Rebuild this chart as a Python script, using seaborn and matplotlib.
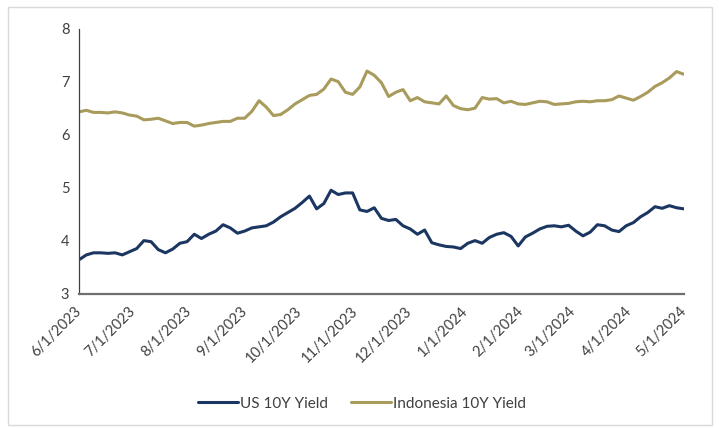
import pandas as pd
import seaborn as sns
import matplotlib.pyplot as plt
from matplotlib.patches import Rectangle

# yields, roughly every 4 days from 6/1/2023 to 5/1/2024
us_10y = [
    3.64, 3.73, 3.77, 3.77, 3.76, 3.77, 3.73, 3.79, 3.85, 4.00,
    3.98, 3.83, 3.77, 3.84, 3.95, 3.98, 4.12, 4.04, 4.12, 4.18,
    4.30, 4.24, 4.14, 4.18, 4.24, 4.26, 4.28, 4.35, 4.45, 4.53,
    4.61, 4.72, 4.84, 4.60, 4.70, 4.95, 4.87, 4.90, 4.90, 4.58,
    4.55, 4.62, 4.42, 4.38, 4.40, 4.28, 4.22, 4.12, 4.20, 3.96,
    3.92, 3.89, 3.88, 3.85, 3.95, 4.00, 3.95, 4.06, 4.12, 4.15,
    4.08, 3.90, 4.07, 4.14, 4.22, 4.27, 4.28, 4.26, 4.29, 4.18,
    4.09, 4.16, 4.30, 4.28, 4.20, 4.17, 4.28, 4.34, 4.45, 4.53,
    4.64, 4.61, 4.66, 4.62, 4.60,
]
indonesia_10y = [
    6.43, 6.46, 6.42, 6.42, 6.41, 6.43, 6.41, 6.37, 6.35, 6.28,
    6.29, 6.31, 6.26, 6.21, 6.23, 6.23, 6.16, 6.18, 6.21, 6.23,
    6.25, 6.25, 6.31, 6.31, 6.44, 6.64, 6.52, 6.36, 6.38, 6.47,
    6.58, 6.66, 6.74, 6.76, 6.86, 7.05, 7.00, 6.80, 6.76, 6.90,
    7.20, 7.12, 6.98, 6.72, 6.80, 6.85, 6.64, 6.70, 6.62, 6.60,
    6.58, 6.73, 6.55, 6.49, 6.47, 6.50, 6.70, 6.67, 6.68, 6.60,
    6.63, 6.58, 6.57, 6.60, 6.63, 6.62, 6.57, 6.58, 6.59, 6.62,
    6.63, 6.62, 6.64, 6.64, 6.66, 6.73, 6.69, 6.65, 6.72, 6.80,
    6.91, 6.98, 7.07, 7.19, 7.14,
]
dates = pd.date_range("2023-06-01", "2024-05-01", periods=len(us_10y))

month_ticks = pd.date_range("2023-06-01", "2024-05-01", freq="MS")
month_labels = ["6/1/2023", "7/1/2023", "8/1/2023", "9/1/2023", "10/1/2023",
                "11/1/2023", "12/1/2023", "1/1/2024", "2/1/2024", "3/1/2024",
                "4/1/2024", "5/1/2024"]
y_ticks = [3, 4, 5, 6, 7, 8]

df = pd.DataFrame({
    "Date": list(dates) * 2,
    "Yield": us_10y + indonesia_10y,
    "Series": ["US 10Y Yield"] * len(us_10y) + ["Indonesia 10Y Yield"] * len(indonesia_10y),
})

sns.set_style("white")
plt.rcParams["font.family"] = ["Lato", "DejaVu Sans"]

fig = plt.figure(figsize=(7.19, 4.28), dpi=100)
ax = fig.add_axes([0.110, 0.314, 0.841, 0.619])

sns.lineplot(data=df, x="Date", y="Yield", hue="Series",
             palette={"US 10Y Yield": "#1b3660", "Indonesia 10Y Yield": "#a89b5c"},
             linewidth=2.2, ax=ax)

ax.set_xlim(dates[0], dates[-1])
ax.set_ylim(3, 8)
ax.set_yticks(y_ticks)
ax.set_xticks(month_ticks)
ax.set_xticklabels(month_labels, rotation=45, ha="right", va="center",
                   rotation_mode="anchor")
ax.set_xlabel("")
ax.set_ylabel("")

ax.tick_params(axis="y", length=4, width=0.8, color="#404040", labelsize=10.5,
               labelcolor="#404040", pad=3)
ax.tick_params(axis="x", length=0, labelsize=10.5, labelcolor="#404040", pad=11)

sns.despine(ax=ax)
ax.spines["left"].set_color("#404040")
ax.spines["left"].set_linewidth(0.9)
ax.spines["bottom"].set_color("#6f6f6f")
ax.spines["bottom"].set_linewidth(1.6)

ax.legend(loc="center", bbox_to_anchor=(0.468, -0.416), ncol=2, frameon=False,
          fontsize=11, handlelength=2.6, handletextpad=0.15, columnspacing=1.5,
          labelcolor="#404040")

# light frame around the whole chart
fig.patches.append(Rectangle((8 / 719, 3 / 428), 704 / 719, 418 / 428,
                             transform=fig.transFigure, fill=False,
                             edgecolor="#d9d9d9", linewidth=1))

fig.savefig("out.png", dpi=100)
